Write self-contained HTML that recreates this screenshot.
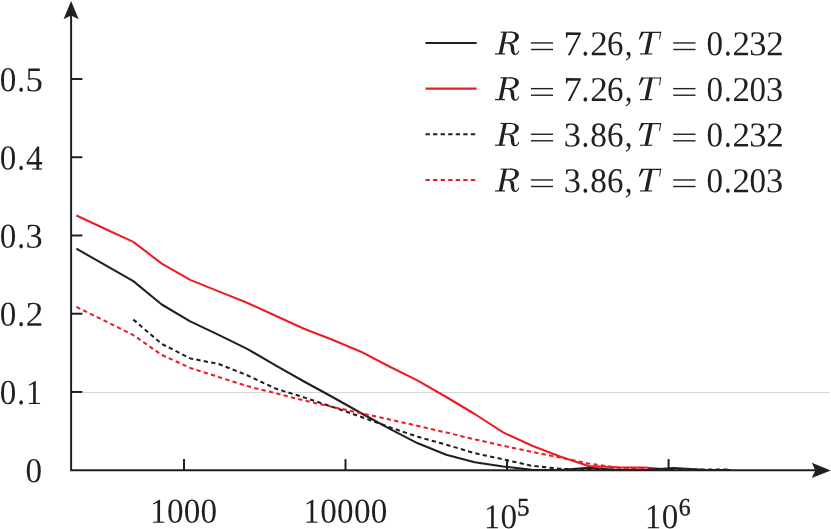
<!DOCTYPE html>
<html><head><meta charset="utf-8"><title>chart</title>
<style>
html,body{margin:0;padding:0;background:#fff;}
body{width:831px;height:529px;overflow:hidden;}
svg{display:block;}
g.txt{opacity:0.999;}
text{font-family:"Liberation Serif",serif;fill:#231f20;}
</style></head><body>
<svg width="831" height="529" viewBox="0 0 831 529">
<rect width="831" height="529" fill="#fff"/>
<line x1="83" y1="392.5" x2="829.5" y2="392.5" stroke="#e3e3e3" stroke-width="1"/><line x1="83.5" y1="392.5" x2="829.5" y2="392.5" stroke="#c9c9c9" stroke-width="1" stroke-dasharray="1 1"/>
<g fill="none" stroke-width="2.05" stroke-linejoin="round">
<path d="M76.40,215.50 L104.85,228.70 L133.30,241.90 L161.75,263.60 L190.20,279.90 L218.65,291.40 L247.10,302.80 L275.55,315.70 L304.00,328.70 L332.45,339.80 L360.90,351.70 L389.35,366.50 L417.80,380.60 L446.25,397.00 L474.70,414.00 L503.15,432.40 L531.60,445.50 L560.05,456.50 L588.50,466.00 L616.95,467.30 L645.40,467.50 L673.85,470.10" stroke="#ed1c24"/>
<path d="M76.40,248.70 L104.85,264.90 L133.30,281.10 L161.75,304.50 L190.20,321.40 L218.65,334.90 L247.10,348.80 L275.55,365.30 L304.00,381.50 L332.45,397.00 L360.90,413.00 L389.35,428.70 L417.80,443.30 L446.25,454.70 L474.70,462.20 L503.15,466.50 L531.60,469.80 L560.05,470.10 L588.50,467.80 L616.95,469.90 L645.40,470.10 L673.85,468.00 L702.30,469.80 L730.75,470.10" stroke="#231f20"/>
<path d="M133.30,319.60 L161.75,343.90 L190.20,358.40 L218.65,364.00 L247.10,375.20 L275.55,388.60 L304.00,397.40 L332.45,406.90 L360.90,416.80 L389.35,427.10 L417.80,436.80 L446.25,444.70 L474.70,453.20 L503.15,459.30 L531.60,465.80 L560.05,468.80 L588.50,469.70 L616.95,469.60 L645.40,469.60 L673.85,469.60 L702.30,469.60 L730.75,469.60" stroke="#231f20" stroke-dasharray="4.3 3.26"/>
<path d="M76.40,306.90 L104.85,320.90 L133.30,335.10 L161.75,354.90 L190.20,367.90 L218.65,377.00 L247.10,386.10 L275.55,393.20 L304.00,400.50 L332.45,406.90 L360.90,413.20 L389.35,419.40 L417.80,425.90 L446.25,432.50 L474.70,439.30 L503.15,445.80 L531.60,451.80 L560.05,457.50 L588.50,463.50 L616.95,467.60 L645.40,469.40" stroke="#ed1c24" stroke-dasharray="4.3 3.26"/>
</g>
<g stroke="#231f20" stroke-width="2.0" fill="none">
<path d="M71.1,10 L71.1,470.2 L822,470.2" stroke-linejoin="miter"/>
<line x1="71.1" y1="79.00" x2="82.4" y2="79.00"/>
<line x1="71.1" y1="157.24" x2="82.4" y2="157.24"/>
<line x1="71.1" y1="235.48" x2="82.4" y2="235.48"/>
<line x1="71.1" y1="313.72" x2="82.4" y2="313.72"/>
<line x1="71.1" y1="391.96" x2="82.4" y2="391.96"/>
<line x1="184.0" y1="470.2" x2="184.0" y2="459.1"/>
<line x1="345.5" y1="470.2" x2="345.5" y2="459.1"/>
<line x1="507.0" y1="470.2" x2="507.0" y2="459.1"/>
<line x1="668.6" y1="470.2" x2="668.6" y2="459.1"/>
</g>
<path d="M71.1,1.0 L78.7,19.2 L71.1,15.6 L63.5,19.2 Z" fill="#231f20"/>
<path d="M830.8,470.4 L811.8,478.0 L815.3,470.4 L811.8,462.8 Z" fill="#231f20"/>
<g class="txt">
<text transform="translate(-0.32,91.15) rotate(0.03) scale(0.3310,0.3496)" font-size="100">0</text><text transform="translate(17.20,91.15) rotate(0.03) scale(0.3083,0.3496)" font-size="100">.</text><text transform="translate(25.52,91.15) rotate(0.03) scale(0.3475,0.3496)" font-size="100">5</text>
<text transform="translate(-0.32,169.39) rotate(0.03) scale(0.3310,0.3496)" font-size="100">0</text><text transform="translate(17.20,169.39) rotate(0.03) scale(0.3083,0.3496)" font-size="100">.</text><text transform="translate(26.03,169.39) rotate(0.03) scale(0.3333,0.3496)" font-size="100">4</text>
<text transform="translate(-0.32,247.63) rotate(0.03) scale(0.3310,0.3496)" font-size="100">0</text><text transform="translate(17.20,247.63) rotate(0.03) scale(0.3083,0.3496)" font-size="100">.</text><text transform="translate(25.58,247.63) rotate(0.03) scale(0.3439,0.3496)" font-size="100">3</text>
<text transform="translate(-0.32,325.87) rotate(0.03) scale(0.3310,0.3496)" font-size="100">0</text><text transform="translate(17.20,325.87) rotate(0.03) scale(0.3083,0.3496)" font-size="100">.</text><text transform="translate(25.83,325.87) rotate(0.03) scale(0.3500,0.3496)" font-size="100">2</text>
<text transform="translate(-0.32,404.11) rotate(0.03) scale(0.3310,0.3496)" font-size="100">0</text><text transform="translate(17.20,404.11) rotate(0.03) scale(0.3083,0.3496)" font-size="100">.</text><text transform="translate(26.02,404.11) rotate(0.03) scale(0.3200,0.3496)" font-size="100">1</text>
<text transform="translate(25.58,482.35) rotate(0.03) scale(0.3310,0.3496)" font-size="100">0</text>
<line x1="32.2" y1="168.99" x2="42.0" y2="168.99" stroke="#231f20" stroke-width="1.1"/>
<text transform="translate(150.22,522.65) rotate(0.03) scale(0.3200,0.3496)" font-size="100">1</text><text transform="translate(166.88,522.65) rotate(0.03) scale(0.3310,0.3496)" font-size="100">0</text><text transform="translate(183.68,522.65) rotate(0.03) scale(0.3310,0.3496)" font-size="100">0</text><text transform="translate(200.48,522.65) rotate(0.03) scale(0.3310,0.3496)" font-size="100">0</text>
<text transform="translate(303.62,522.65) rotate(0.03) scale(0.3200,0.3496)" font-size="100">1</text><text transform="translate(320.28,522.65) rotate(0.03) scale(0.3310,0.3496)" font-size="100">0</text><text transform="translate(337.08,522.65) rotate(0.03) scale(0.3310,0.3496)" font-size="100">0</text><text transform="translate(353.88,522.65) rotate(0.03) scale(0.3310,0.3496)" font-size="100">0</text><text transform="translate(370.68,522.65) rotate(0.03) scale(0.3310,0.3496)" font-size="100">0</text>
<text transform="translate(483.92,528.15) rotate(0.03) scale(0.3200,0.3496)" font-size="100">1</text><text transform="translate(500.58,528.15) rotate(0.03) scale(0.3310,0.3496)" font-size="100">0</text>
<text transform="translate(516.99,515.55) rotate(0.03) scale(0.2503,0.2519)" font-size="100" stroke="#231f20" stroke-width="1.6">5</text>
<text transform="translate(645.12,528.15) rotate(0.03) scale(0.3200,0.3496)" font-size="100">1</text><text transform="translate(661.78,528.15) rotate(0.03) scale(0.3310,0.3496)" font-size="100">0</text>
<text transform="translate(678.64,515.55) rotate(0.03) scale(0.2373,0.2519)" font-size="100" stroke="#231f20" stroke-width="1.6">6</text>
<line x1="425.5" y1="42.9" x2="476.6" y2="42.9" stroke="#231f20" stroke-width="2.05"/>
<g transform="translate(0,0.0)"><g fill="#231f20" stroke="none"><path d="M503.4,31.9 L506.8,31.9 L502.2,54.0 L498.8,54.0 Z"/><path d="M500.6,31.6 L511,31.6 L511,32.7 L500.6,32.7 Z"/><path d="M495.0,53.3 L505.0,53.3 L505.0,54.5 L495.0,54.5 Z"/><path d="M510,31.6 C515.9,31.6 518.9,33.7 518.9,36.7 C518.9,40.4 514.4,43.4 509.2,43.4 L504.2,43.4 L504.4,42.3 L508.2,42.3 C512.2,42.3 515.2,40.2 515.2,36.5 C515.2,33.9 513.8,32.7 510,32.7 Z"/><path d="M508.4,42.6 C514.0,43.4 514.1,46.0 514.2,48.6 C514.3,51.6 514.3,53.8 515.7,53.8 C517.1,53.8 518.0,52.3 518.3,50.5 L519.2,50.7 C518.8,53.1 517.5,55.0 515.1,55.0 C511.8,55.0 511.0,52.0 510.8,48.6 C510.7,46.0 510.5,44.0 506.9,43.3 Z"/></g>
<g fill="#231f20" stroke="none"><path d="M649.2,32.0 L652.7,32.0 L648.1,54.0 L644.6,54.0 Z"/><path d="M641.2,31.8 L661.2,31.8 L661.0,32.9 L641.0,32.9 Z"/><path d="M641.2,31.8 L644.0,32.6 L639.6,39.7 L638.8,39.3 Z"/><path d="M660.1,32.0 L661.2,31.8 L660.0,39.6 L659.1,39.5 Z"/><path d="M640.0,53.4 L652.2,53.4 L652.2,54.5 L640.0,54.5 Z"/></g>
</g>
<g stroke="#231f20" stroke-width="1.4"><line x1="530.9" y1="42.95" x2="553.0" y2="42.95"/><line x1="530.9" y1="49.50" x2="553.0" y2="49.50"/><line x1="673.2" y1="42.95" x2="695.5" y2="42.95"/><line x1="673.2" y1="49.50" x2="695.5" y2="49.50"/></g>
<text transform="translate(563.41,55.30) rotate(0.03) scale(0.3679,0.3496)" font-size="100">7</text><text transform="translate(581.60,55.30) rotate(0.03) scale(0.3083,0.3496)" font-size="100">.</text><text transform="translate(590.22,55.30) rotate(0.03) scale(0.3500,0.3496)" font-size="100">2</text><text transform="translate(606.92,55.30) rotate(0.03) scale(0.3294,0.3496)" font-size="100">6</text><text transform="translate(624.76,55.30) rotate(0.03) scale(0.3103,0.3496)" font-size="100">,</text>
<text transform="translate(706.48,55.30) rotate(0.03) scale(0.3310,0.3496)" font-size="100">0</text><text transform="translate(724.00,55.30) rotate(0.03) scale(0.3083,0.3496)" font-size="100">.</text><text transform="translate(732.62,55.30) rotate(0.03) scale(0.3500,0.3496)" font-size="100">2</text><text transform="translate(749.18,55.30) rotate(0.03) scale(0.3439,0.3496)" font-size="100">3</text><text transform="translate(766.22,55.30) rotate(0.03) scale(0.3500,0.3496)" font-size="100">2</text>
<line x1="425.5" y1="88.6" x2="476.6" y2="88.6" stroke="#ed1c24" stroke-width="2.05"/>
<g transform="translate(0,45.7)"><g fill="#231f20" stroke="none"><path d="M503.4,31.9 L506.8,31.9 L502.2,54.0 L498.8,54.0 Z"/><path d="M500.6,31.6 L511,31.6 L511,32.7 L500.6,32.7 Z"/><path d="M495.0,53.3 L505.0,53.3 L505.0,54.5 L495.0,54.5 Z"/><path d="M510,31.6 C515.9,31.6 518.9,33.7 518.9,36.7 C518.9,40.4 514.4,43.4 509.2,43.4 L504.2,43.4 L504.4,42.3 L508.2,42.3 C512.2,42.3 515.2,40.2 515.2,36.5 C515.2,33.9 513.8,32.7 510,32.7 Z"/><path d="M508.4,42.6 C514.0,43.4 514.1,46.0 514.2,48.6 C514.3,51.6 514.3,53.8 515.7,53.8 C517.1,53.8 518.0,52.3 518.3,50.5 L519.2,50.7 C518.8,53.1 517.5,55.0 515.1,55.0 C511.8,55.0 511.0,52.0 510.8,48.6 C510.7,46.0 510.5,44.0 506.9,43.3 Z"/></g>
<g fill="#231f20" stroke="none"><path d="M649.2,32.0 L652.7,32.0 L648.1,54.0 L644.6,54.0 Z"/><path d="M641.2,31.8 L661.2,31.8 L661.0,32.9 L641.0,32.9 Z"/><path d="M641.2,31.8 L644.0,32.6 L639.6,39.7 L638.8,39.3 Z"/><path d="M660.1,32.0 L661.2,31.8 L660.0,39.6 L659.1,39.5 Z"/><path d="M640.0,53.4 L652.2,53.4 L652.2,54.5 L640.0,54.5 Z"/></g>
</g>
<g stroke="#231f20" stroke-width="1.4"><line x1="530.9" y1="88.65" x2="553.0" y2="88.65"/><line x1="530.9" y1="95.20" x2="553.0" y2="95.20"/><line x1="673.2" y1="88.65" x2="695.5" y2="88.65"/><line x1="673.2" y1="95.20" x2="695.5" y2="95.20"/></g>
<text transform="translate(563.41,101.00) rotate(0.03) scale(0.3679,0.3496)" font-size="100">7</text><text transform="translate(581.60,101.00) rotate(0.03) scale(0.3083,0.3496)" font-size="100">.</text><text transform="translate(590.22,101.00) rotate(0.03) scale(0.3500,0.3496)" font-size="100">2</text><text transform="translate(606.92,101.00) rotate(0.03) scale(0.3294,0.3496)" font-size="100">6</text><text transform="translate(624.76,101.00) rotate(0.03) scale(0.3103,0.3496)" font-size="100">,</text>
<text transform="translate(706.48,101.00) rotate(0.03) scale(0.3310,0.3496)" font-size="100">0</text><text transform="translate(724.00,101.00) rotate(0.03) scale(0.3083,0.3496)" font-size="100">.</text><text transform="translate(732.62,101.00) rotate(0.03) scale(0.3500,0.3496)" font-size="100">2</text><text transform="translate(749.48,101.00) rotate(0.03) scale(0.3310,0.3496)" font-size="100">0</text><text transform="translate(765.98,101.00) rotate(0.03) scale(0.3439,0.3496)" font-size="100">3</text>
<line x1="425.5" y1="134.2" x2="476.6" y2="134.2" stroke="#231f20" stroke-width="2.05" stroke-dasharray="4.3 3.26"/>
<g transform="translate(0,91.3)"><g fill="#231f20" stroke="none"><path d="M503.4,31.9 L506.8,31.9 L502.2,54.0 L498.8,54.0 Z"/><path d="M500.6,31.6 L511,31.6 L511,32.7 L500.6,32.7 Z"/><path d="M495.0,53.3 L505.0,53.3 L505.0,54.5 L495.0,54.5 Z"/><path d="M510,31.6 C515.9,31.6 518.9,33.7 518.9,36.7 C518.9,40.4 514.4,43.4 509.2,43.4 L504.2,43.4 L504.4,42.3 L508.2,42.3 C512.2,42.3 515.2,40.2 515.2,36.5 C515.2,33.9 513.8,32.7 510,32.7 Z"/><path d="M508.4,42.6 C514.0,43.4 514.1,46.0 514.2,48.6 C514.3,51.6 514.3,53.8 515.7,53.8 C517.1,53.8 518.0,52.3 518.3,50.5 L519.2,50.7 C518.8,53.1 517.5,55.0 515.1,55.0 C511.8,55.0 511.0,52.0 510.8,48.6 C510.7,46.0 510.5,44.0 506.9,43.3 Z"/></g>
<g fill="#231f20" stroke="none"><path d="M649.2,32.0 L652.7,32.0 L648.1,54.0 L644.6,54.0 Z"/><path d="M641.2,31.8 L661.2,31.8 L661.0,32.9 L641.0,32.9 Z"/><path d="M641.2,31.8 L644.0,32.6 L639.6,39.7 L638.8,39.3 Z"/><path d="M660.1,32.0 L661.2,31.8 L660.0,39.6 L659.1,39.5 Z"/><path d="M640.0,53.4 L652.2,53.4 L652.2,54.5 L640.0,54.5 Z"/></g>
</g>
<g stroke="#231f20" stroke-width="1.4"><line x1="530.9" y1="134.25" x2="553.0" y2="134.25"/><line x1="530.9" y1="140.80" x2="553.0" y2="140.80"/><line x1="673.2" y1="134.25" x2="695.5" y2="134.25"/><line x1="673.2" y1="140.80" x2="695.5" y2="140.80"/></g>
<text transform="translate(563.78,146.60) rotate(0.03) scale(0.3439,0.3496)" font-size="100">3</text><text transform="translate(581.60,146.60) rotate(0.03) scale(0.3083,0.3496)" font-size="100">.</text><text transform="translate(590.27,146.60) rotate(0.03) scale(0.3333,0.3496)" font-size="100">8</text><text transform="translate(606.92,146.60) rotate(0.03) scale(0.3294,0.3496)" font-size="100">6</text><text transform="translate(624.76,146.60) rotate(0.03) scale(0.3103,0.3496)" font-size="100">,</text>
<text transform="translate(706.48,146.60) rotate(0.03) scale(0.3310,0.3496)" font-size="100">0</text><text transform="translate(724.00,146.60) rotate(0.03) scale(0.3083,0.3496)" font-size="100">.</text><text transform="translate(732.62,146.60) rotate(0.03) scale(0.3500,0.3496)" font-size="100">2</text><text transform="translate(749.18,146.60) rotate(0.03) scale(0.3439,0.3496)" font-size="100">3</text><text transform="translate(766.22,146.60) rotate(0.03) scale(0.3500,0.3496)" font-size="100">2</text>
<line x1="425.5" y1="179.9" x2="476.6" y2="179.9" stroke="#ed1c24" stroke-width="2.05" stroke-dasharray="4.3 3.26"/>
<g transform="translate(0,137.0)"><g fill="#231f20" stroke="none"><path d="M503.4,31.9 L506.8,31.9 L502.2,54.0 L498.8,54.0 Z"/><path d="M500.6,31.6 L511,31.6 L511,32.7 L500.6,32.7 Z"/><path d="M495.0,53.3 L505.0,53.3 L505.0,54.5 L495.0,54.5 Z"/><path d="M510,31.6 C515.9,31.6 518.9,33.7 518.9,36.7 C518.9,40.4 514.4,43.4 509.2,43.4 L504.2,43.4 L504.4,42.3 L508.2,42.3 C512.2,42.3 515.2,40.2 515.2,36.5 C515.2,33.9 513.8,32.7 510,32.7 Z"/><path d="M508.4,42.6 C514.0,43.4 514.1,46.0 514.2,48.6 C514.3,51.6 514.3,53.8 515.7,53.8 C517.1,53.8 518.0,52.3 518.3,50.5 L519.2,50.7 C518.8,53.1 517.5,55.0 515.1,55.0 C511.8,55.0 511.0,52.0 510.8,48.6 C510.7,46.0 510.5,44.0 506.9,43.3 Z"/></g>
<g fill="#231f20" stroke="none"><path d="M649.2,32.0 L652.7,32.0 L648.1,54.0 L644.6,54.0 Z"/><path d="M641.2,31.8 L661.2,31.8 L661.0,32.9 L641.0,32.9 Z"/><path d="M641.2,31.8 L644.0,32.6 L639.6,39.7 L638.8,39.3 Z"/><path d="M660.1,32.0 L661.2,31.8 L660.0,39.6 L659.1,39.5 Z"/><path d="M640.0,53.4 L652.2,53.4 L652.2,54.5 L640.0,54.5 Z"/></g>
</g>
<g stroke="#231f20" stroke-width="1.4"><line x1="530.9" y1="179.95" x2="553.0" y2="179.95"/><line x1="530.9" y1="186.50" x2="553.0" y2="186.50"/><line x1="673.2" y1="179.95" x2="695.5" y2="179.95"/><line x1="673.2" y1="186.50" x2="695.5" y2="186.50"/></g>
<text transform="translate(563.78,192.30) rotate(0.03) scale(0.3439,0.3496)" font-size="100">3</text><text transform="translate(581.60,192.30) rotate(0.03) scale(0.3083,0.3496)" font-size="100">.</text><text transform="translate(590.27,192.30) rotate(0.03) scale(0.3333,0.3496)" font-size="100">8</text><text transform="translate(606.92,192.30) rotate(0.03) scale(0.3294,0.3496)" font-size="100">6</text><text transform="translate(624.76,192.30) rotate(0.03) scale(0.3103,0.3496)" font-size="100">,</text>
<text transform="translate(706.48,192.30) rotate(0.03) scale(0.3310,0.3496)" font-size="100">0</text><text transform="translate(724.00,192.30) rotate(0.03) scale(0.3083,0.3496)" font-size="100">.</text><text transform="translate(732.62,192.30) rotate(0.03) scale(0.3500,0.3496)" font-size="100">2</text><text transform="translate(749.48,192.30) rotate(0.03) scale(0.3310,0.3496)" font-size="100">0</text><text transform="translate(765.98,192.30) rotate(0.03) scale(0.3439,0.3496)" font-size="100">3</text>
</g>
</svg>
</body></html>
